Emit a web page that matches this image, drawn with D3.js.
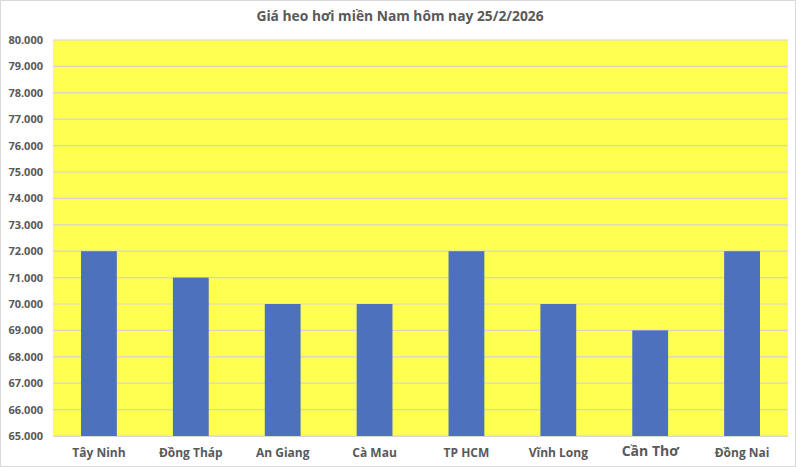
<!DOCTYPE html>
<html lang="vi">
<head>
<meta charset="UTF-8">
<title>Giá heo hơi miền Nam</title>
<script src="https://d3js.org/d3.v7.min.js"></script>
<style>
  body { margin: 0; background: #fff; }
  svg text { font-family: "Open Sans", "Liberation Sans", sans-serif; font-weight: 700; fill: #595959; }
</style>
</head>
<body>
<div id="chart"></div>
<script>
// data
var provinces = ["Tây Ninh", "Đồng Tháp", "An Giang", "Cà Mau", "TP HCM", "Vĩnh Long", "Cần Thơ", "Đồng Nai"];
var prices = [72000, 71000, 70000, 70000, 72000, 70000, 69000, 72000];
var yTicks = [65000, 66000, 67000, 68000, 69000, 70000, 71000, 72000, 73000, 74000, 75000, 76000, 77000, 78000, 79000, 80000];
var title = "Giá heo hơi miền Nam hôm nay 25/2/2026";

var W = 800, H = 467;
var margin = {top: 40, right: 12, bottom: 31, left: 53};
var w = W - margin.left - margin.right;
var h = H - margin.top - margin.bottom;

var svg = d3.select("#chart").append("svg")
    .attr("width", W)
    .attr("height", H);

// outer chart border
svg.append("rect")
    .attr("x", 0.5).attr("y", 0.5)
    .attr("width", W - 5).attr("height", H - 1)
    .attr("fill", "#fff")
    .attr("stroke", "#d9d9d9");

svg.append("text")
    .attr("x", 400)
    .attr("y", 21)
    .attr("text-anchor", "middle")
    .style("font-size", "13.8px")
    .text(title);

var g = svg.append("g")
    .attr("transform", "translate(" + margin.left + "," + margin.top + ")");

var x = d3.scaleBand().domain(provinces).range([0, w]).paddingInner(0.61).paddingOuter(0.305);
var y = d3.scaleLinear().domain([65000, 80000]).range([h, 0]);

// plot area background
g.append("rect")
    .attr("width", w).attr("height", h)
    .attr("fill", "#ffff52");

// gridlines
g.selectAll(".grid").data(yTicks).enter()
    .append("line")
    .attr("x1", 0).attr("x2", w)
    .attr("y1", function(d) { return y(d); })
    .attr("y2", function(d) { return y(d); })
    .attr("stroke", "#d4d4d4")
    .attr("stroke-width", 1.2);

// bars
g.selectAll(".bar").data(prices).enter()
    .append("rect")
    .attr("x", function(d, i) { return x(provinces[i]); })
    .attr("y", function(d) { return y(d); })
    .attr("width", x.bandwidth())
    .attr("height", function(d) { return h - y(d); })
    .attr("fill", "#4e71be");

// y axis labels
var yAxis = d3.axisLeft(y).tickValues(yTicks).tickSize(0).tickPadding(10)
    .tickFormat(function(d) { return d3.format(",")(d).replace(/,/g, "."); });
var ya = g.append("g").call(yAxis);
ya.select(".domain").remove();
ya.selectAll("text").style("font-size", "11px");

// x axis labels
var xAxis = d3.axisBottom(x).tickSize(0).tickPadding(12);
var xa = g.append("g").attr("transform", "translate(0," + h + ")").call(xAxis);
xa.select(".domain").attr("stroke", "#d9d9d9");
xa.selectAll("text")
    .style("font-size", function(d) { return d === "Cần Thơ" ? "14px" : "12px"; })
    .attr("dy", function(d) { return d === "Cần Thơ" ? "0.6em" : "0.71em"; });
</script>
</body>
</html>
